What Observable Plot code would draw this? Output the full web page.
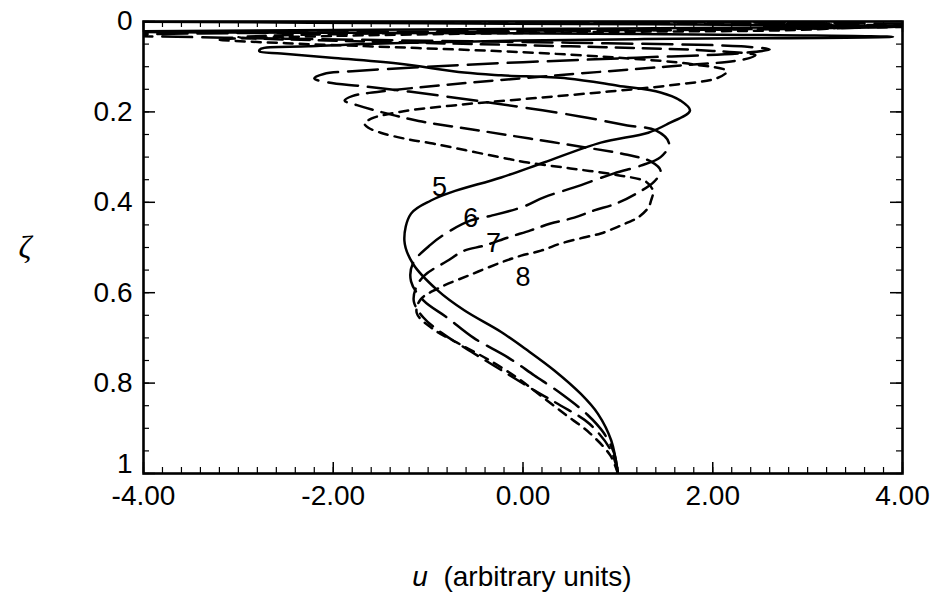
<!DOCTYPE html>
<html>
<head>
<meta charset="utf-8">
<script src="https://cdn.jsdelivr.net/npm/d3@7"></script>
<script src="https://cdn.jsdelivr.net/npm/@observablehq/plot@0.6"></script>
<style>
  body { margin: 0; background: #fff; }
  #wrap { position: relative; width: 938px; height: 598px; }
  #cap { position: absolute; left: 272px; width: 500px; top: 560px; text-align: center;
         font-family: "Liberation Sans", Arial, sans-serif; font-size: 28px; line-height: 34px; color: #000; }
</style>
</head>
<body>
<div id="wrap"><div id="chart"></div><div id="cap"><i>u</i>&nbsp; (arbitrary units)</div></div>
<script>
// curve 5 (solid)
const z5 = [1.0,0.927,0.868,0.824,0.772,0.728,0.687,0.639,0.595,0.536,0.485,0.425,0.396,0.378,0.345,0.312,0.268,0.246,0.226,0.197,0.175,0.157,0.142,0.126,0.119,0.113,0.093,0.080,0.071,0.066,0.060,0.055,0.049,0.044,0.042,0.039,0.034,0.028,0.022,0.016,0.010,0.004,0.0];
const u5 = [1.0,0.93,0.79,0.61,0.33,0.05,-0.23,-0.62,-0.90,-1.16,-1.25,-1.18,-0.97,-0.76,-0.23,0.22,0.82,1.32,1.53,1.76,1.66,1.45,1.0,0.47,-0.23,-0.62,-1.32,-2.02,-2.55,-2.78,-2.76,-2.26,-1.57,-0.52,-0.02,1.2,3.9,1.5,-4.4,0.5,4.4,-1.0,-4.4];
// curve 6 (long dash)
const z6 = [1.0,0.955,0.91,0.87,0.823,0.783,0.743,0.70,0.655,0.617,0.575,0.535,0.493,0.462,0.44,0.43,0.41,0.389,0.367,0.336,0.319,0.30,0.27,0.241,0.23,0.21,0.19,0.172,0.155,0.143,0.135,0.126,0.116,0.110,0.100,0.090,0.080,0.070,0.062,0.055,0.047,0.038,0.030,0.022,0.014,0.007,0.0];
const u6 = [1.0,0.96,0.85,0.68,0.40,0.12,-0.16,-0.52,-0.80,-1.05,-1.18,-1.16,-0.97,-0.76,-0.55,-0.34,0.0,0.22,0.54,0.96,1.24,1.45,1.54,1.40,1.10,0.60,0.0,-0.60,-1.20,-1.70,-2.05,-2.20,-2.10,-1.80,-1.00,0.0,1.20,2.30,2.60,2.30,0.5,-2.5,-4.3,-1.0,3.5,4.3,0.0];
// curve 7 (medium dash)
const z7 = [1.0,0.95,0.89,0.85,0.82,0.775,0.73,0.69,0.655,0.62,0.59,0.562,0.53,0.507,0.496,0.478,0.462,0.447,0.434,0.418,0.403,0.38,0.355,0.33,0.31,0.295,0.28,0.26,0.24,0.22,0.20,0.185,0.175,0.165,0.155,0.14,0.12,0.10,0.085,0.075,0.065,0.055,0.045,0.035,0.026,0.018,0.010,0.004,0.0];
const u7 = [1.0,0.93,0.70,0.40,0.15,-0.20,-0.55,-0.85,-1.05,-1.15,-1.13,-1.04,-0.80,-0.62,-0.41,-0.16,0.08,0.29,0.54,0.75,0.98,1.20,1.38,1.45,1.35,1.10,0.70,0.10,-0.50,-1.10,-1.50,-1.75,-1.88,-1.80,-1.50,-0.80,0.30,1.50,2.30,2.45,2.0,0.5,-1.5,-3.0,-1.5,2.0,4.3,1.0,-3.0];
// curve 8 (short dash)
const z8 = [1.0,0.96,0.91,0.87,0.83,0.79,0.75,0.71,0.68,0.645,0.615,0.591,0.56,0.533,0.518,0.507,0.491,0.478,0.469,0.456,0.445,0.434,0.412,0.396,0.375,0.355,0.34,0.325,0.312,0.30,0.285,0.27,0.259,0.246,0.235,0.226,0.215,0.20,0.185,0.17,0.155,0.14,0.125,0.11,0.095,0.08,0.068,0.058,0.048,0.04,0.032,0.024,0.016,0.008,0.0];
const u8 = [1.0,0.92,0.70,0.45,0.20,-0.05,-0.35,-0.70,-0.95,-1.12,-1.08,-0.90,-0.55,-0.23,-0.02,0.19,0.40,0.64,0.82,0.98,1.10,1.21,1.32,1.35,1.37,1.30,1.00,0.50,0.05,-0.25,-0.60,-0.95,-1.25,-1.50,-1.63,-1.67,-1.60,-1.30,-0.70,0.10,0.90,1.60,2.05,2.15,1.8,1.0,0.0,-1.2,-2.5,-3.2,-2.0,0.5,3.2,3.5,0.0];

const labelText = ["5","6","7","8"];
const labelU = [-0.88,-0.55,-0.31,0.0];
const labelZ = [0.367,0.436,0.491,0.566];

const xTickValues = [-4,-2,0,2,4];
const yTickValues = [0,0.2,0.4,0.6,0.8,1];
const xMinor = d3.range(-4,4.0001,0.2);
const yMinor = d3.range(0,1.0001,0.05);

const toRows = (us, zs, k) => us.map((u,i) => ({u, z: zs[i], k}));
const curves = [
  {rows: toRows(u5,z5,"5"), dash: null},
  {rows: toRows(u6,z6,"6"), dash: "30,10"},
  {rows: toRows(u7,z7,"7"), dash: "18,9"},
  {rows: toRows(u8,z8,"8"), dash: "9,7"}
];

const W = 938, H = 555, mL = 143, mR = 36, mT = 21, mB = 82;
const pw = W - mL - mR, ph = H - mT - mB;

const marks = [];
curves.forEach(c => {
  marks.push(Plot.line(c.rows, {x: "u", y: "z", curve: "catmull-rom", stroke: "black", strokeWidth: 2.5,
    strokeDasharray: c.dash, clip: true}));
});
// inward ticks
marks.push(Plot.tickX(xMinor, {x: d => d, insetTop: ph - 6, stroke: "black", strokeWidth: 1.2}));
marks.push(Plot.tickX(xMinor, {x: d => d, insetBottom: ph - 6, stroke: "black", strokeWidth: 1.2}));
marks.push(Plot.tickX(xTickValues, {x: d => d, insetTop: ph - 11, stroke: "black", strokeWidth: 1.5}));
marks.push(Plot.tickX(xTickValues, {x: d => d, insetBottom: ph - 11, stroke: "black", strokeWidth: 1.5}));
marks.push(Plot.tickY(yMinor, {y: d => d, insetRight: pw - 6, stroke: "black", strokeWidth: 1.2}));
marks.push(Plot.tickY(yMinor, {y: d => d, insetLeft: pw - 6, stroke: "black", strokeWidth: 1.2}));
marks.push(Plot.tickY(yTickValues, {y: d => d, insetRight: pw - 12, stroke: "black", strokeWidth: 1.5}));
marks.push(Plot.tickY(yTickValues, {y: d => d, insetLeft: pw - 12, stroke: "black", strokeWidth: 1.5}));
marks.push(Plot.frame({stroke: "black", strokeWidth: 2.6}));
marks.push(Plot.axisX(xTickValues, {label: null, tickSize: 0, tickPadding: 12, fontSize: 28, tickFormat: d => d.toFixed(2)}));
marks.push(Plot.axisY(yTickValues.slice(0, 5), {label: null, tickSize: 0, tickPadding: 11, fontSize: 28, tickFormat: d => String(d)}));
marks.push(Plot.axisY(yTickValues.slice(5), {label: null, tickSize: 0, tickPadding: 11, fontSize: 28, dy: -9, tickFormat: d => String(d)}));
marks.push(Plot.text(labelText, {x: (d,i) => labelU[i], y: (d,i) => labelZ[i], text: d => d, fontSize: 27, fill: "black"}));
marks.push(Plot.text(["ζ"], {frameAnchor: "left", dx: -125, fontSize: 32, fontStyle: "italic", fontFamily: "Liberation Serif, serif"}));

const chart = Plot.plot({
  width: W, height: H,
  marginLeft: mL, marginRight: mR, marginTop: mT, marginBottom: mB,
  style: {fontFamily: "Liberation Sans, Arial, sans-serif", color: "black", background: "white"},
  x: {domain: [-4,4], axis: null},
  y: {domain: [0,1], reverse: true, axis: null},
  marks
});
document.getElementById("chart").appendChild(chart);
</script>
</body>
</html>
